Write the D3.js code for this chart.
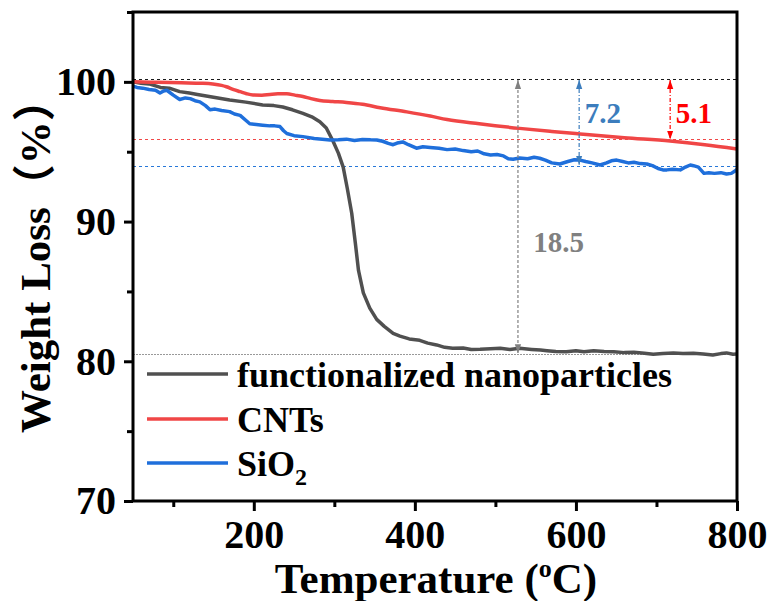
<!DOCTYPE html>
<html>
<head>
<meta charset="utf-8">
<script src="https://cdn.jsdelivr.net/npm/d3@7"></script>
<style>
  body { margin: 0; background: #fff; }
  text { font-family: "Liberation Serif", "Times New Roman", serif; font-weight: bold; }
</style>
</head>
<body>
<svg width="771" height="601"></svg>
<script>
// data: [temperature, weight %]
let functionalized = [[50,100.0],[60,99.9],[70,99.85],[84,99.6],[95,99.55],[108,99.3],[120,99.2],[130,99.1],[150,98.9],[170,98.7],[190,98.55],[211,98.35],[225,98.3],[236,98.2],[248,98.0],[261,97.75],[272,97.5],[282,97.15],[290,96.7],[298,95.8],[305,94.9],[311,93.9],[316,92.4],[321.6,90.6],[326,88.5],[330,86.5],[336,84.9],[344,83.8],[352.6,83.0],[362,82.5],[373,82.0],[381.5,81.8],[393,81.6],[406,81.5],[416,81.3],[427,81.17],[437,81.0],[447,80.93],[460,80.95],[470,80.85],[481,80.86],[494,80.9],[506,80.93],[518,80.85],[530,80.93],[545,80.85],[556,80.8],[564,80.76],[575,80.7],[588,80.69],[600,80.75],[610,80.68],[622,80.76],[635,80.7],[647,80.69],[660,80.62],[672,80.64],[685,80.58],[696,80.5],[708,80.56],[721,80.6],[733,80.55],[746,80.57],[758,80.52],[770,80.45],[780,80.55],[787,80.6],[795,80.5],[800,80.52]]

let cnts = [[50,100.0],[80,99.97],[110,99.93],[135,99.9],[149,99.85],[160,99.75],[166,99.65],[175,99.45],[183,99.3],[191,99.15],[199,99.06],[210,99.05],[220,99.1],[230,99.14],[241,99.14],[251,99.05],[261,98.95],[271,98.8],[282,98.67],[298,98.6],[315,98.53],[335,98.4],[357,98.15],[390,97.85],[419,97.55],[440,97.3],[480,97.0],[530,96.67],[570,96.45],[605,96.27],[660,96.0],[717,95.76],[760,95.5],[800,95.2]]

let sio2 = [[50,99.7],[55,99.6],[62,99.55],[70,99.45],[78,99.4],[83.5,99.2],[88,99.35],[92,99.4],[100,99.05],[108,98.74],[115,98.85],[121,98.8],[127,98.65],[133,98.57],[140,98.3],[145.6,98.0],[152,98.05],[160,97.95],[170,97.87],[176,97.7],[183,97.6],[190,97.25],[195,97.0],[203,96.95],[211,96.9],[220,96.85],[226,96.85],[232.5,96.8],[237,96.5],[241,96.3],[250,96.15],[261,96.08],[275,95.95],[285,95.9],[294.6,95.84],[305,95.85],[315,95.9],[325,95.8],[335,95.88],[345,95.85],[352.6,95.84],[360,95.75],[367,95.6],[373,95.5],[378,95.62],[385,95.7],[392,95.5],[402,95.25],[410,95.35],[419,95.3],[430,95.25],[440,95.15],[450,95.2],[460,95.08],[470,95.0],[478,95.05],[486,94.85],[494,94.77],[502,94.8],[510,94.7],[516,94.5],[522,94.46],[530,94.55],[540,94.5],[548,94.6],[555,94.53],[562,94.4],[570,94.2],[580,94.12],[590,94.3],[598,94.42],[605,94.4],[612,94.3],[620,94.2],[630,94.05],[638,94.2],[644,94.35],[650.6,94.4],[658,94.3],[665,94.2],[672,94.25],[680,94.15],[688,94.12],[695,94.0],[702,93.8],[708,93.7],[713,93.7],[720,93.75],[729.6,93.7],[736,93.9],[742,94.05],[746,94.0],[752,93.9],[759,93.45],[765,93.5],[772,93.45],[780,93.5],[787,93.4],[793,93.45],[797,93.6],[800,93.74]]

let seriesNames = ['functionalized nanoparticles', 'CNTs', 'SiO2']
let xTicks = [200, 400, 600, 800]
let xMinor = [100, 300, 500, 700]
let yTicks = [70, 80, 90, 100]
let yMinor = [75, 85, 95, 105]

// horizontal reference levels and the loss arrows
let refLevels = [100.2, 95.9, 94.0, 80.5]
let arrows = [
  {t: 528, from: 100.2, to: 80.5, label: '18.5', lt: 547, lv: 87.8},
  {t: 604, from: 100.2, to: 94.0, label: '7.2', lt: 611, lv: 97.06},
  {t: 717, from: 100.2, to: 95.8, label: '5.1', lt: 724, lv: 97.06}
]

let padLeft = 133, padRight = 737, padTop = 12, padBottom = 501

let svg = d3.select('svg')

let xScale = d3.scaleLinear().domain([50, 800]).range([padLeft, padRight])
let yScale = d3.scaleLinear().domain([70, 105]).range([padBottom, padTop])

let lineColors = ['#505050', '#f04646', '#1f6fdb']
let refColors = ['#1a1a1a', '#f04848', '#2878d8', '#999999']
let arrowColors = ['#808080', '#3c7dbd', '#ff0000']

// arrow heads
let defs = svg.append('defs')
arrowColors.forEach((c, i) => {
  defs.append('marker')
    .attr('id', 'ah' + i)
    .attr('viewBox', '0 0 10 10')
    .attr('refX', 10).attr('refY', 5)
    .attr('markerWidth', 9).attr('markerHeight', 9)
    .attr('markerUnits', 'userSpaceOnUse')
    .attr('orient', 'auto-start-reverse')
    .append('path')
    .attr('d', 'M0,1.5 L10,5 L0,8.5 Z')
    .attr('fill', c)
})

// reference lines
svg.selectAll('.ref')
  .data(refLevels)
  .enter()
  .append('line')
  .attr('class', 'ref')
  .attr('x1', padLeft).attr('x2', padRight)
  .attr('y1', d => Math.round(yScale(d)) + 0.5).attr('y2', d => Math.round(yScale(d)) + 0.5)
  .attr('stroke', (d, i) => refColors[i])
  .attr('stroke-width', 1)
  .attr('stroke-dasharray', (d, i) => i == 3 ? '2,1' : '3,3')

// curves
let line = d3.line()
  .x(d => xScale(d[0]))
  .y(d => yScale(d[1]))

let allSeries = [functionalized, cnts, sio2]
allSeries.forEach((s, i) => {
  svg.append('path')
    .datum(s)
    .attr('d', i == 1 ? line.curve(d3.curveMonotoneX)(s) : line.curve(d3.curveLinear)(s))
    .attr('fill', 'none')
    .attr('stroke', lineColors[i])
    .attr('stroke-width', 3.5)
    .attr('stroke-linejoin', 'round')
})

// loss arrows
arrows.forEach((a, i) => {
  svg.append('line')
    .attr('x1', xScale(a.t)).attr('x2', xScale(a.t))
    .attr('y1', yScale(a.from) + 1).attr('y2', yScale(a.to) - 1)
    .attr('stroke', arrowColors[i])
    .attr('stroke-width', 1.2)
    .attr('stroke-dasharray', i == 0 ? '3,2' : '4,2,1,2')
    .attr('marker-start', 'url(#ah' + i + ')')
    .attr('marker-end', 'url(#ah' + i + ')')
  svg.append('text')
    .attr('x', xScale(a.lt))
    .attr('y', yScale(a.lv))
    .attr('fill', arrowColors[i])
    .style('font-size', '29px')
    .text(a.label)
})

// frame
svg.append('rect')
  .attr('x', padLeft).attr('y', padTop)
  .attr('width', padRight - padLeft).attr('height', padBottom - padTop)
  .attr('fill', 'none')
  .attr('stroke', '#000')
  .attr('stroke-width', 3)

// axes
let xAxis = d3.axisBottom(xScale).tickValues(xTicks).tickSize(10).tickPadding(9)
let yAxis = d3.axisLeft(yScale).tickValues(yTicks).tickSize(9).tickPadding(8)

let gx = svg.append('g')
  .attr('transform', 'translate(0,' + padBottom + ')')
  .call(xAxis)
gx.selectAll('.tick line').attr('stroke-width', 3)
svg.append('g')
  .attr('transform', 'translate(0,' + padBottom + ')')
  .call(d3.axisBottom(xScale).tickValues(xMinor).tickSize(6).tickFormat(''))
  .selectAll('.tick line').attr('stroke-width', 3)

let gy = svg.append('g')
  .attr('transform', 'translate(' + padLeft + ',0)')
  .call(yAxis)
gy.selectAll('.tick line').attr('stroke-width', 3)
svg.append('g')
  .attr('transform', 'translate(' + padLeft + ',0)')
  .call(d3.axisLeft(yScale).tickValues(yMinor).tickSize(6).tickFormat(''))
  .selectAll('.tick line').attr('stroke-width', 3)

svg.selectAll('.domain').remove()
svg.selectAll('.tick text')
  .attr('fill', '#000')
  .style('font-family', '"Liberation Serif", serif')
  .style('font-weight', 'bold')
  .style('font-size', '40px')

// axis titles
let xt = svg.append('text')
  .attr('x', 436).attr('y', 593)
  .attr('text-anchor', 'middle')
  .style('font-size', '43px')
xt.append('tspan').text('Temperature (')
xt.append('tspan').text('o').style('font-size', '26px').attr('dy', -16)
xt.append('tspan').text('C)').attr('dy', 16)

svg.append('text')
  .attr('transform', 'translate(50,433) rotate(-90)')
  .style('font-size', '43px')
  .style('font-family', '"Liberation Serif", "Noto Sans CJK SC", serif')
  .text('Weight Loss（%）')

// legend
let legendY = [374, 419, 463]
seriesNames.forEach((name, i) => {
  svg.append('line')
    .attr('x1', 147).attr('x2', 228)
    .attr('y1', legendY[i]).attr('y2', legendY[i])
    .attr('stroke', lineColors[i])
    .attr('stroke-width', 3.5)
  let t = svg.append('text')
    .attr('x', 237).attr('y', legendY[i] + 13)
    .style('font-size', '36px')
  if (name == 'SiO2') {
    t.append('tspan').text('SiO')
    t.append('tspan').text('2').style('font-size', '24px').attr('dy', 9)
  } else {
    t.text(name)
  }
})
</script>
</body>
</html>
